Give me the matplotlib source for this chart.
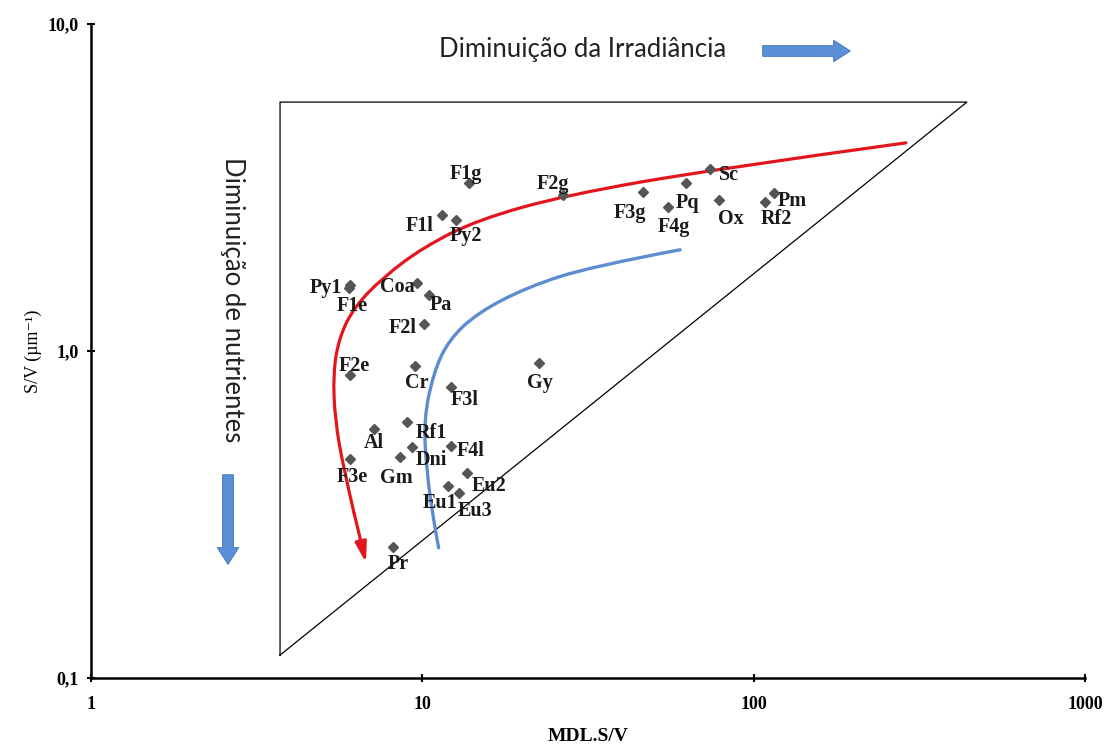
import numpy as np
import matplotlib.pyplot as plt
from matplotlib.path import Path
from matplotlib.patches import PathPatch

# ---------------------------------------------------------------
# data (x = MDL.S/V, y = S/V in um^-1)
# ---------------------------------------------------------------
names = ['F1g', 'F1l', 'Py2', 'Py1', 'F1e', 'Coa', 'Pa', 'F2l', 'F2e', 'Cr',
         'F3l', 'Gy', 'Al', 'Rf1', 'Dni', 'Gm', 'F4l', 'F3e', 'Eu2', 'Eu1',
         'Eu3', 'Pr', 'F2g', 'F3g', 'Pq', 'F4g', 'Sc', 'Ox', 'Rf2', 'Pm']
mdl_sv = [13.8, 11.5, 12.6, 6.05, 6.0, 9.64, 10.5, 10.1, 6.05, 9.5,
          12.2, 22.5, 7.15, 8.99, 9.31, 8.56, 12.2, 6.05, 13.6, 11.95,
          12.9, 8.16, 26.6, 46.4, 62.5, 55.2, 73.9, 78.6, 108, 115]
sv = [3.26, 2.61, 2.52, 1.59, 1.56, 1.61, 1.48, 1.21, 0.845, 0.90,
      0.776, 0.919, 0.577, 0.607, 0.509, 0.474, 0.512, 0.467, 0.423, 0.386,
      0.368, 0.252, 3.0, 3.06, 3.26, 2.76, 3.60, 2.90, 2.86, 3.04]

# triangle envelope
tri_x = [3.72, 3.72, 440, 3.72]
tri_y = [0.1175, 5.77, 5.77, 0.1175]

# hand drawn trend curves (guide points)
red_x = [288, 76.5, 27.2, 14.7, 10.1, 7.61, 6.22, 5.61, 5.38, 5.45, 5.80, 6.22, 6.76]
red_y = [4.33, 3.60, 3.00, 2.52, 2.08, 1.68, 1.36, 1.10, 0.856, 0.615, 0.432, 0.320, 0.225]
blue_x = [60.0, 32.1, 20.8, 14.7, 12.0, 10.8, 10.1, 10.3, 10.8, 11.2]
blue_y = [2.04, 1.81, 1.57, 1.31, 1.08, 0.856, 0.615, 0.432, 0.304, 0.250]

xticks = [1, 10, 100, 1000]
xticklabels = ['1', '10', '100', '1000']
yticks = [0.1, 1, 10]
yticklabels = ['0,1', '1,0', '10,0']

# label offsets in pixels (dx, dy) from each diamond
label_offsets = [(-3, 9), (-23, -11), (10, -16), (-24, -3), (3, -18), (-20, -4),
                 (12, -10), (-21, -4), (4, 9), (2, -17), (14, -13), (1, -20),
                 (0, -14), (24, -11), (19, -13), (-4, -21), (20, -5), (2, -18),
                 (22, -13), (-8, -17), (16, -18), (5, -17), (-10, 11), (-13, -21),
                 (1, -20), (6, -20), (19, -6), (12, -19), (12, -17), (18, -8)]

serif = ['Liberation Serif', 'DejaVu Serif']
sans = ['Lato', 'DejaVu Sans']


def smooth_path(xs, ys):
    # quadratic b-spline through the guide points (log-space midpoints)
    verts = [(xs[0], ys[0])]
    codes = [Path.MOVETO]
    n = len(xs)
    for i in range(1, n - 1):
        if i == n - 2:
            end = (xs[-1], ys[-1])
        else:
            end = (np.sqrt(xs[i] * xs[i + 1]), np.sqrt(ys[i] * ys[i + 1]))
        verts += [(xs[i], ys[i]), end]
        codes += [Path.CURVE3, Path.CURVE3]
    return Path(verts, codes)


W, H = 1109, 747
fig = plt.figure(figsize=(W / 100, H / 100), dpi=100)
ax = fig.add_axes([91 / W, 1 - 678 / H, (1085 - 91) / W, (678 - 24) / H])

ax.set_xscale('log')
ax.set_yscale('log')
ax.set_xlim(1, 1000)
ax.set_ylim(0.1, 10)

ax.plot(tri_x, tri_y, color='black', lw=0.9, zorder=2)

ax.plot(mdl_sv, sv, linestyle='none', marker='D', markersize=5,
        color='#555555', zorder=4)
for n, x, y, (dx, dy) in zip(names, mdl_sv, sv, label_offsets):
    ax.annotate(n, (x, y), xytext=(dx, dy), textcoords='offset pixels',
                ha='center', va='center', fontsize=14.5, fontweight='bold',
                family=serif, color='#1a1a1a', zorder=5)

# red curve with arrow head
red = '#e3161d'
ax.add_patch(PathPatch(smooth_path(red_x[:-1], red_y[:-1]), fill=False,
                       ec=red, lw=2.3, capstyle='round', zorder=3))
ax.annotate('', xy=(red_x[-1], red_y[-1]), xytext=(red_x[-2], red_y[-2]),
            arrowprops=dict(arrowstyle='-|>,head_length=1.0,head_width=0.28',
                            color=red, lw=2.3, shrinkA=0, shrinkB=0,
                            mutation_scale=12), zorder=3)
# blue curve
ax.add_patch(PathPatch(smooth_path(blue_x, blue_y), fill=False,
                       ec='#5d8ccf', lw=2.4, capstyle='round', zorder=3))

for s in ['top', 'right']:
    ax.spines[s].set_visible(False)
for s in ['left', 'bottom']:
    ax.spines[s].set_linewidth(1.8)

ax.set_xticks(xticks)
ax.set_xticklabels(xticklabels)
ax.set_yticks(yticks)
ax.set_yticklabels(yticklabels)
ax.minorticks_off()
ax.tick_params(direction='inout', length=6, width=1.5)
ax.tick_params(axis='x', pad=10)
ax.tick_params(axis='y', pad=6)
for lab in ax.get_xticklabels() + ax.get_yticklabels():
    lab.set_family(serif)
    lab.set_fontweight('bold')
    lab.set_fontsize(13)

ax.set_xlabel('MDL.S/V', family=serif, fontweight='bold', fontsize=14,
              labelpad=11)
ax.set_ylabel('S/V (\u00b5m\u207b\u00b9)', family=serif, fontsize=13, labelpad=4)

# annotation arrows and captions
fig.text(583 / W, 1 - 50 / H, 'Diminuição da Irradiância', family=sans,
         fontsize=18.5, ha='center', va='center', color='#222222')
fig.text(232 / W, 1 - 300 / H, 'Diminuição de nutrientes', family=sans,
         fontsize=18.5, ha='center', va='center', rotation=-90, color='#222222')

arrow_kw = dict(arrowstyle='simple,head_length=0.7,head_width=0.9,tail_width=0.45',
                mutation_scale=17, fc='#5b90d8', ec='#4a7bbf', lw=0.8)
ax.annotate('', xy=(853, H - 51), xytext=(760, H - 51), xycoords='figure pixels',
            textcoords='figure pixels', arrowprops=arrow_kw)
ax.annotate('', xy=(228, H - 567), xytext=(228, H - 472), xycoords='figure pixels',
            textcoords='figure pixels', arrowprops=arrow_kw)

plt.savefig('out.png', dpi=100)
